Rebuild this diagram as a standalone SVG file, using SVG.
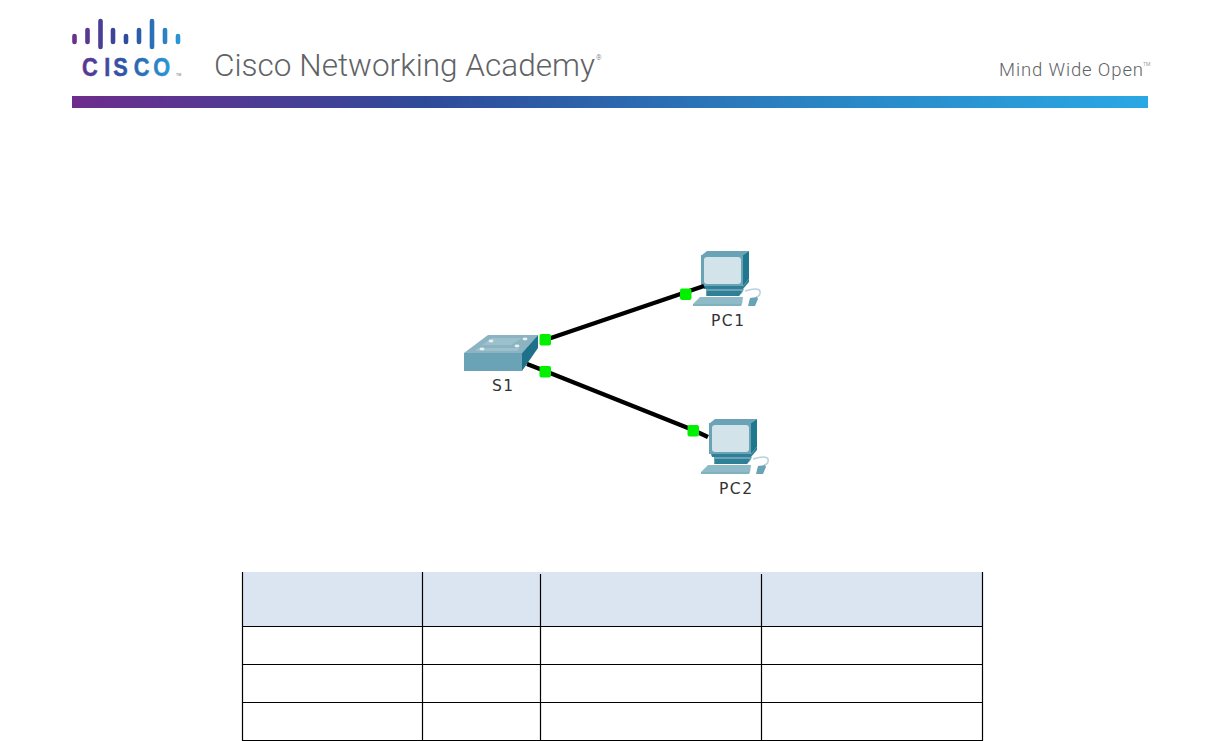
<svg xmlns="http://www.w3.org/2000/svg" width="1222" height="741" viewBox="0 0 1222 741">
<style>
.hdr{font-family:"Roboto","Liberation Sans",sans-serif;font-weight:300;fill:#5f6366}
.lbl{font-family:"DejaVu Sans",sans-serif;font-size:15.500px;letter-spacing:1.500px;fill:#333}
.link{stroke:#000;stroke-width:4.400;fill:none}
.port{fill:#00f000}
.grid{stroke:#000;stroke-width:1.200;fill:none}
.bar{stroke-width:4.600;stroke-linecap:round;fill:none}
.d{fill:#2f7f96}.m{fill:#6ba3b6}.l{fill:#d3e3ea}.f{fill:#8fbac8}
</style>
<defs>
<linearGradient id="band" x1="0" x2="1" y1="0" y2="0">
<stop offset="0" stop-color="#6e2c8c"/><stop offset="0.33" stop-color="#2f4a9a"/><stop offset="0.66" stop-color="#2a80c0"/><stop offset="1" stop-color="#2aa8e4"/>
</linearGradient>
<linearGradient id="logo" gradientUnits="userSpaceOnUse" x1="72" x2="182" y1="0" y2="0">
<stop offset="0" stop-color="#6b2f8f"/><stop offset="0.5" stop-color="#2c4c9c"/><stop offset="1" stop-color="#2a9ad8"/>
</linearGradient>
<linearGradient id="logo2" gradientUnits="userSpaceOnUse" x1="0" x2="110" y1="0" y2="0">
<stop offset="0" stop-color="#5a3592"/><stop offset="0.5" stop-color="#2c5aa8"/><stop offset="1" stop-color="#2a9ad8"/>
</linearGradient>
<g id="pc">
<path class="m" d="M1 4L6 0L48 0L42 4Z"/>
<path class="m" d="M0 4H42V35H0Z"/>
<path d="M42 4L48 0V28L42 35Z" fill="#1f7890"/>
<rect class="l" x="3" y="6" width="37" height="27" rx="3"/>
<path class="d" d="M2 35H42L48 28V31L42 38H3Z"/>
<path class="m" d="M5 38H43L41 42L38 45H5Z"/>
<path class="d" d="M6 40H41L38 45H6Z"/>
<path class="f" d="M-1 46H42L41 53H-8Z"/>
<path class="d" d="M-8 53H41L40 55H-8Z" opacity=".6"/>
<path d="M44 40Q57 36 59 40Q60 45 55 46" fill="none" stroke="#b9d2dc" stroke-width="1.600"/>
<path class="m" d="M49 47L56 46L57 48L54 55H47Z"/>
</g>
</defs>
<g id="header">
<g id="cisco-logo" class="bar" stroke="url(#logo)">
<path d="M74.500 36V42M87.500 30V42M100.500 21V47M113 30V42M126 36V42M139 30V42M152 21V47M165 30V42M178 36V42"/>
</g>
<text transform="translate(82 76) scale(.82 1)" x="0 27 38 63 87" y="0" font-family="Liberation Sans,Arial,sans-serif" font-weight="700" font-size="26.500" stroke="url(#logo2)" stroke-width="0.500" fill="url(#logo2)">CISCO</text>
<text x="176" y="76" font-family="Liberation Sans,Arial,sans-serif" font-size="3.500" fill="#666">TM</text>
<text class="hdr" x="214" y="76" font-size="31.500" textLength="381">Cisco Networking Academy</text>
<text class="hdr" x="596" y="60" font-size="7">®</text>
<text class="hdr" x="999" y="76" font-size="18.500" textLength="144">Mind Wide Open</text>
<text class="hdr" x="1143" y="66" font-size="5">TM</text>
<rect x="72" y="96" width="1076" height="12" fill="url(#band)"/>
</g>
<g id="S1">
<path d="M464 353L488 335H538L522 353Z" fill="#8bb3c1"/>
<path d="M482 345L492 338H522L511 345ZM478 348H520L517 351H475Z" fill="#9cc0cc"/>
<path d="M522 353L538 335V348L522 371Z" fill="#1f708a"/>
<path class="m" d="M464 353H522V371H464Z"/>
<g fill="#e6f0f4"><ellipse cx="491" cy="341" rx="2.500" ry="1.400"/><ellipse cx="525" cy="339" rx="2.500" ry="1.400"/><ellipse cx="482" cy="349" rx="2.500" ry="1.400"/><ellipse cx="517" cy="346" rx="2.500" ry="1.400"/></g>
<text class="lbl" x="492" y="391">S1</text>
</g>
<g id="PC1">
<use href="#pc" x="701" y="251"/>
<text class="lbl" x="711" y="326">PC1</text>
</g>
<g id="PC2">
<use href="#pc" x="709" y="419"/>
<text class="lbl" x="719" y="494">PC2</text>
</g>
<g id="connectors">
<path class="link" d="M545 340L704 286"/>
<path class="link" d="M527 364L545 371L693 430L708 437"/>
</g>
<g id="ports">
<rect class="port" x="539.500" y="334" width="11.500" height="11.500" rx="2"/>
<rect class="port" x="539.500" y="366" width="11.500" height="11.500" rx="2"/>
<rect class="port" x="680" y="288.500" width="11.500" height="11.500" rx="2"/>
<rect class="port" x="687.500" y="425" width="11.500" height="11.500" rx="2"/>
</g>
<g id="table">
<rect x="243" y="572" width="740" height="54" fill="#dbe5f1"/>
<path class="grid" d="M242.500 572V741M422.500 572V741M540.500 574V741M761.500 574V741M982.500 572V741M242 626.500H983M242 664.500H983M242 702.500H983M242 740.500H983"/>
</g>
</svg>
